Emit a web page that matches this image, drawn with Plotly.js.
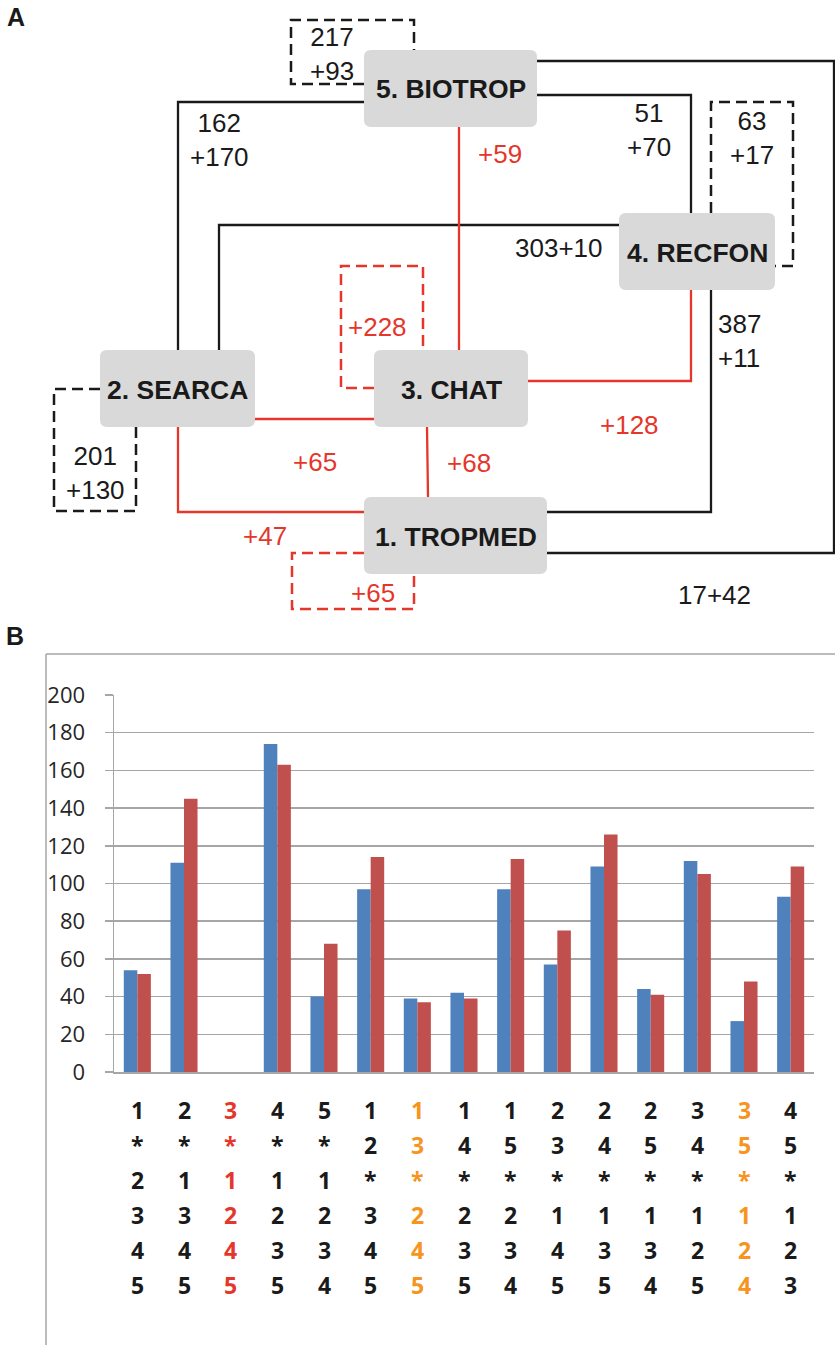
<!DOCTYPE html>
<html><head><meta charset="utf-8">
<script src="https://cdn.plot.ly/plotly-3.0.1.min.js"></script>
<style>html,body{margin:0;padding:0;background:#fff}#chart{width:835px;height:1345px}</style>
</head><body><div id="chart"></div>
<script>
// ---------- Panel B data ----------
const combos = ['1*2345','2*1345','3*1245','4*1235','5*1234','12*345','13*245','14*235','15*234','23*145','24*135','25*134','34*125','35*124','45*123'];
const seriesBlue = [54,111,0,174,40,97,39,42,97,57,109,44,112,27,93];
const seriesRed  = [52,145,0,163,68,114,37,39,113,75,126,41,105,48,109];
const comboGroup = ['n','n','r','n','n','n','o','n','n','n','n','n','n','o','n'];
const yTickVals = [0,20,40,60,80,100,120,140,160,180,200];

// ---------- Panel A data ----------
const nodeNames = ['1. TROPMED','2. SEARCA','3. CHAT','4. RECFON','5. BIOTROP'];
const blackLabels = ['217<br>+93','162<br>+170','51<br>+70','63<br>+17','303+10','387<br>+11','201<br>+130','17+42'];
const redLabels = ['+59','+228','+65','+68','+128','+47','+65'];

// ---------- geometry / styles (not data) ----------
const BLACK = '#1a1a1a', RED = '#e5362b', ORANGE = '#f7941d', GRAY = '#a6a6a6';
const boxes = [[364,497,547,574],[100,350,255,427],[374,350,528,427],[619,213,775,290],[364,50,537,127]];
const boxTextPos = [[455.5,537],[177.5,390],[451,390],[697.5,253],[450.5,89]];
const blackLabelPos = [[332,'c',54],[219,'c',140],[649,'c',130],[752,'c',138],[558,'c',248],[716,'l',341],[95,'c',472.5],[714.5,'c',595]];
const redLabelPos = [[500,153.5],[377,326.5],[315,462],[469,463],[629,424.5],[265,535.5],[373,592.5]];
const blackPaths = ['M537,61 H834 V553 H547','M537,95 H691 V213','M364,102 H178 V350','M619,225 H219 V350','M711,290 V512 H547'];
const redPaths = ['M459,127 V350','M528,381 H691 V290','M255,419 H374','M178,427 V512 H364','M427,427 L428,497'];
const blackDash = ['M364,84 H291 V20 H414 V50','M711,213 V102 H793 V266 H775','M100,389 H54 V511 H136 V427'];
const redDash = ['M374,388 H341 V266 H423 V350','M364,553 H292 V609 H414 V574'];

function rr(b, r) {
  const [x0,y0,x1,y1] = b;
  return `M${x0+r},${y0} H${x1-r} Q${x1},${y0} ${x1},${y0+r} V${y1-r} Q${x1},${y1} ${x1-r},${y1} H${x0+r} Q${x0},${y1} ${x0},${y1-r} V${y0+r} Q${x0},${y0} ${x0+r},${y0} Z`;
}

const shapes = [];
const P = (path, color, dash, w) => shapes.push({type:'path', xref:'x2', yref:'y2', path, line:{color, width:w||2.3, dash:dash||'solid'}});
blackPaths.forEach(p => P(p, BLACK));
blackDash.forEach(p => P(p, BLACK, '11px,6px', 2.5));
redDash.forEach(p => P(p, RED, '11px,6px', 2.5));
redPaths.forEach(p => P(p, RED));
boxes.forEach(b => shapes.push({type:'path', xref:'x2', yref:'y2', path: rr(b,7), fillcolor:'#d9d9d9', line:{width:0}}));
// panel B frame
shapes.push({type:'line', xref:'x2', yref:'y2', x0:46, y0:654, x1:835, y1:654, line:{color:GRAY, width:1.5}});
shapes.push({type:'line', xref:'x2', yref:'y2', x0:46, y0:654, x1:46, y1:1345, line:{color:GRAY, width:1.5}});

const FA = 'Liberation Sans, Arial, sans-serif';
const annotations = [];
const A = (o) => annotations.push(Object.assign({xref:'x2', yref:'y2', showarrow:false, xanchor:'center', yanchor:'middle'}, o));
A({x:16, y:17, text:'<b>A</b>', font:{family:FA, size:25, color:BLACK}});
A({x:15, y:636, text:'<b>B</b>', font:{family:FA, size:25, color:BLACK}});
nodeNames.forEach((n,i) => A({x:boxTextPos[i][0], y:boxTextPos[i][1], text:'<b>'+n+'</b>', font:{family:FA, size:26.5, color:BLACK}}));
blackLabels.forEach((t,i) => {
  const p = blackLabelPos[i];
  A({x:p[0], y:p[2], text:t, xanchor: p[1]==='l'?'left':'center', align: p[1]==='l'?'left':'center', font:{family:FA, size:26, color:BLACK}});
});
redLabels.forEach((t,i) => A({x:redLabelPos[i][0], y:redLabelPos[i][1], text:t, font:{family:FA, size:26, color:RED}}));

// category tick labels (6 stacked rows)
const rowY = [1110,1145,1180,1215,1250,1285];
const groupColor = {n:BLACK, r:RED, o:ORANGE};
combos.forEach((c,i) => {
  c.split('').forEach((ch,r) => {
    annotations.push({xref:'x', yref:'y2', x:c, y:rowY[r], text:'<b>'+ch+'</b>', showarrow:false, xanchor:'center', yanchor:'middle',
      font:{family:'Open Sans, sans-serif', size:23, color:groupColor[comboGroup[i]]}});
  });
});

const data = [
  {type:'bar', x:combos, y:seriesBlue, marker:{color:'#4f81bd'}, hoverinfo:'y', name:'a'},
  {type:'bar', x:combos, y:seriesRed, marker:{color:'#c0504d'}, hoverinfo:'y', name:'b'},
  {type:'scatter', x:[], y:[], xaxis:'x2', yaxis:'y2', hoverinfo:'skip'}
];

const layout = {
  width:835, height:1345, margin:{l:0,r:0,t:0,b:0},
  paper_bgcolor:'#fff', plot_bgcolor:'rgba(0,0,0,0)', showlegend:false,
  barmode:'group', bargap:0.42, bargroupgap:0,
  xaxis:{domain:[114/835, 814/835], type:'category', anchor:'y', showticklabels:false, ticks:'', showgrid:false,
         showline:true, linecolor:GRAY, linewidth:1.5, zeroline:false, fixedrange:true},
  yaxis:{domain:[1-1072/1345, 1-695/1345], anchor:'x', range:[0,200], tickvals:yTickVals, showgrid:true, gridcolor:GRAY, gridwidth:1.5,
         ticks:'outside', ticklen:8, tickcolor:GRAY, tickwidth:1.5, showline:true, linecolor:GRAY, linewidth:1.5, zeroline:false,
         tickfont:{family:'Open Sans, sans-serif', size:22, color:'#262626'}, ticklabelstandoff:15, fixedrange:true},
  xaxis2:{domain:[0,1], range:[0,835], anchor:'y2', visible:false, fixedrange:true},
  yaxis2:{domain:[0,1], range:[1345,0], anchor:'x2', visible:false, fixedrange:true},
  shapes, annotations
};
Plotly.newPlot('chart', data, layout, {staticPlot:true});
</script></body></html>
